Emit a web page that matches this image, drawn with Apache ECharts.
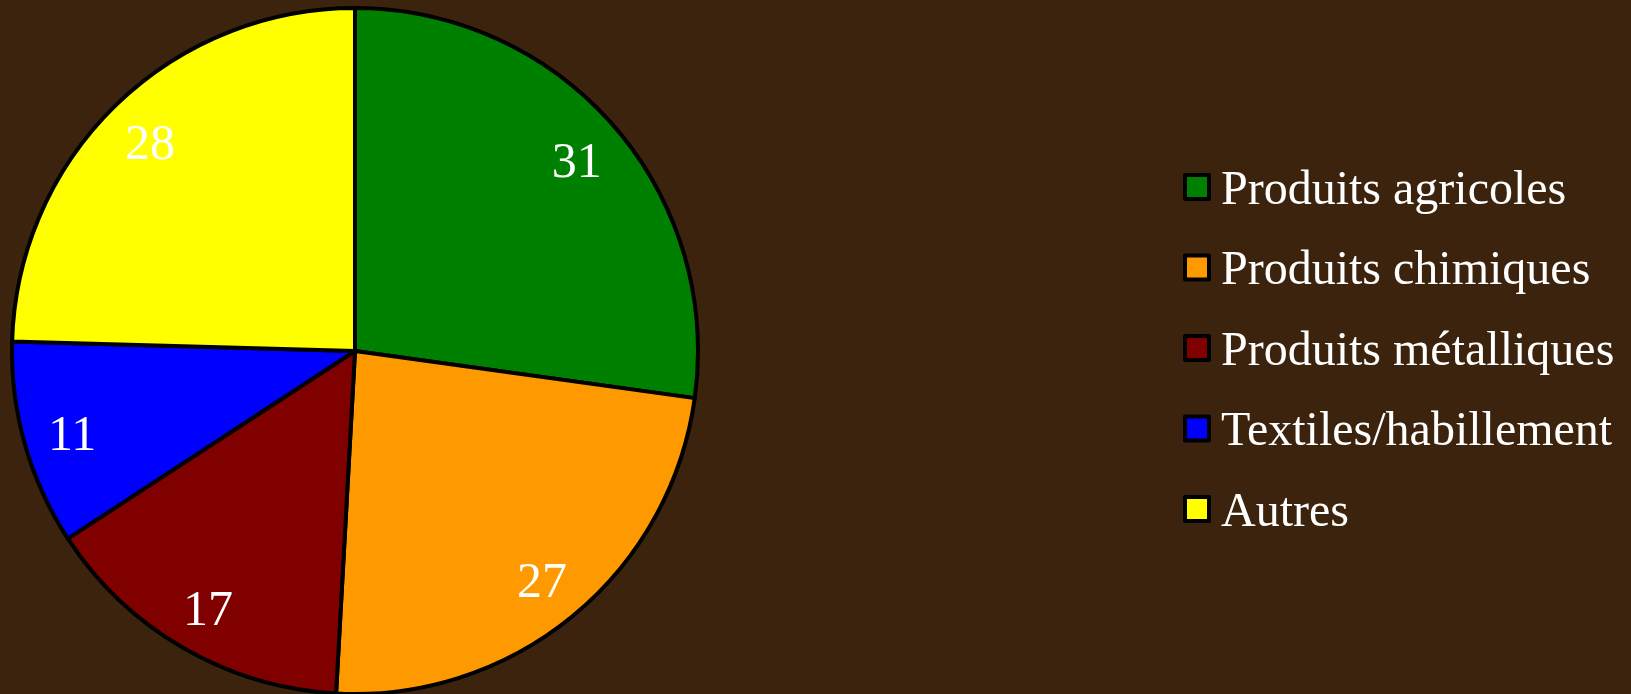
<!DOCTYPE html>
<html lang="fr">

<head>
  <meta charset="UTF-8">
  <title>Exportations par produit</title>
  <style>
    html,
    body {
      margin: 0;
      padding: 0;
      background-color: #3c230d;
    }

    #chart {
      width: 1631px;
      height: 694px;
    }
  </style>
</head>

<body>
  <div id="chart"></div>
  <script src="https://cdn.jsdelivr.net/npm/echarts@6/dist/echarts.min.js"></script>
  <script>
    const categories = ['Produits agricoles', 'Produits chimiques', 'Produits métalliques', 'Textiles/habillement', 'Autres']
    const values = [31, 27, 17, 11, 28]
    const colors = ['#008000', '#ff9900', '#800000', '#0000ff', '#ffff00']

    const pieData = categories.map((name, i) => ({
      name: name,
      value: values[i],
      itemStyle: { color: colors[i] }
    }))

    const center = [355, 351]

    const option = {
      backgroundColor: '#3c230d',
      animation: false,
      textStyle: { fontFamily: 'Liberation Serif' },
      legend: {
        orient: 'vertical',
        left: 1178,
        top: 154,
        icon: 'rect',
        itemWidth: 24,
        itemHeight: 24,
        itemGap: 24.5,
        selectedMode: false,
        itemStyle: { borderColor: '#000', borderWidth: 4 },
        formatter: name => '{t|' + name + '}',
        textStyle: {
          color: '#fff',
          fontSize: 48,
          fontFamily: 'Liberation Serif',
          rich: {
            t: {
              color: '#fff',
              fontSize: 48,
              lineHeight: 48,
              fontFamily: 'Liberation Serif',
              padding: [8, 0, 0, 7]
            }
          }
        },
        data: categories
      },
      series: [
        {
          name: 'parts',
          type: 'pie',
          center: center,
          radius: [0, 343],
          startAngle: 90,
          clockwise: true,
          silent: true,
          itemStyle: { borderColor: '#000', borderWidth: 4 },
          label: { show: false },
          labelLine: { show: false },
          data: pieData
        },
        {
          // anneau invisible pour placer les valeurs près du bord
          name: 'labels',
          type: 'pie',
          center: center,
          radius: [239, 343],
          startAngle: 90,
          clockwise: true,
          silent: true,
          itemStyle: { color: 'rgba(0,0,0,0)', borderWidth: 0 },
          label: {
            show: true,
            position: 'inside',
            formatter: '{c}',
            color: '#fff',
            fontSize: 50,
            fontFamily: 'Liberation Serif',
            textBorderWidth: 0,
            offset: [0, 6]
          },
          labelLine: { show: false },
          data: categories.map((name, i) => ({ name: name, value: values[i] }))
        }
      ]
    }

    const myChart = echarts.init(document.getElementById('chart'))
    myChart.setOption(option)
  </script>
</body>

</html>
